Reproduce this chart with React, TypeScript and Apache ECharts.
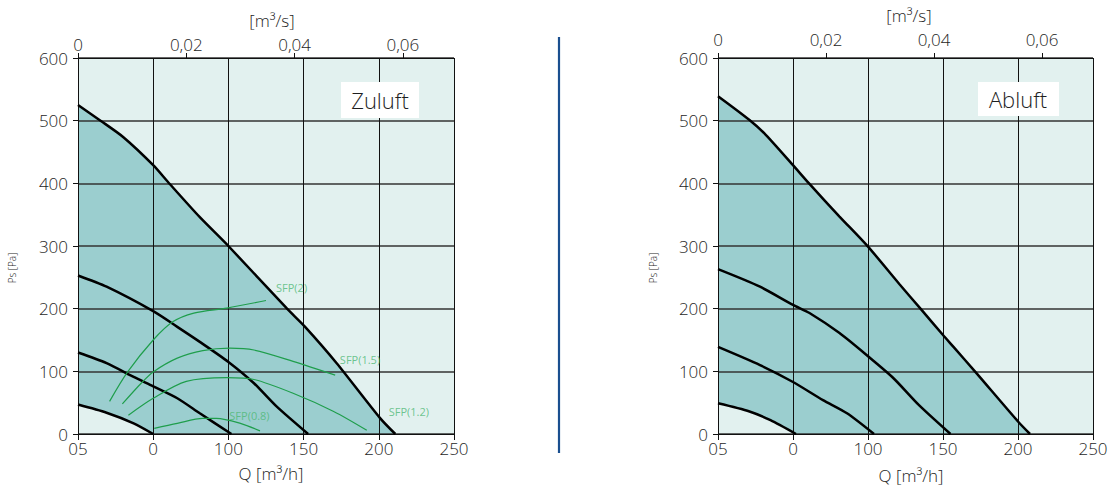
import { useEffect, useRef } from "react";
import * as echarts from "echarts";

// ---- tick labels ----
const xTicks = [0, 50, 100, 150, 200, 250];
const xTickLabels = ["05", "0", "100", "150", "200", "250"];
const topTicks = [0, 0.02, 0.04, 0.06];
const topTickLabels = ["0", "0,02", "0,04", "0,06"];

// ---- Zuluft curves [Q m3/h, Ps Pa] ----
const zuluftMax = [[0, 525], [15, 500], [30, 474], [50, 429], [61, 399], [81, 346], [100, 300], [139, 200], [151, 171], [172, 113], [201, 25], [211, 0]];
const zuluftC3 = [[0, 253], [19, 235], [50, 196], [66, 171], [81, 147], [100, 115], [117, 81], [132, 44], [153, 0]];
const zuluftC2 = [[0, 130], [19, 113], [37, 91], [50, 76], [66, 57], [81, 33], [102, 0]];
const zuluftC1 = [[0, 47], [19, 34], [37, 17], [50, 0]];

// ---- SFP curves (Zuluft) ----
const sfp2 = [[21, 52], [33, 99], [50, 150], [63, 179], [77, 193], [99, 201], [125, 213]];
const sfp15 = [[29.5, 48], [42, 81], [50, 99], [66, 121], [83, 133], [101, 137], [117, 134], [143, 116], [171, 94]];
const sfp12 = [[33.5, 30], [50, 57], [72, 84], [99, 90], [117, 87], [143, 65], [170, 36], [192, 6]];
const sfp08 = [[50.7, 9], [66, 17], [83, 25], [92, 25], [108, 17], [121, 5]];
const sfpLabelNames = ["SFP(2)", "SFP(1.5)", "SFP(1.2)", "SFP(0.8)"];
const sfpLabelPos = [[142, 234], [187.5, 119], [220, 36], [114, 30]];

// ---- Abluft curves ----
const abluftMax = [[0, 539], [21, 501], [32, 477], [50, 429], [61, 399], [81, 347], [100, 299], [121, 239], [135, 200], [150, 158], [157, 139], [172, 98], [200, 20], [208, 0]];
const abluftC3 = [[0, 263], [28, 235], [50, 206], [61, 193], [81, 161], [100, 124], [117, 89], [134, 46], [155, 0]];
const abluftC2 = [[0, 139], [28, 110], [50, 83], [70, 54], [86, 33], [104, 0]];
const abluftC1 = [[0, 49], [21, 36], [35, 22], [52, 0]];

const BG = "#e2f1ef";
const TEAL = "#9bcecf";
const GRID = "#111";
const TXT = "#1e1e1e";
const GREEN = "#1f9e4c";
const GREEN_TXT = "#4db874";
const FONT = "Open Sans";
const FW = 300;
const FS = 17;

function buildOption() {
  const panels = [
    { left: 78, width: 376, max: zuluftMax, curves: [zuluftC3, zuluftC2, zuluftC1], low: zuluftC1, topMargin: 5 },
    { left: 718, width: 375, max: abluftMax, curves: [abluftC3, abluftC2, abluftC1], low: abluftC1, topMargin: 10 },
  ];
  const grid: any[] = [];
  const xAxis: any[] = [];
  const yAxis: any[] = [];
  const series: any[] = [];
  panels.forEach((p, i) => {
    grid.push({ left: p.left, top: 58, width: p.width, height: 376, show: true, backgroundColor: BG, borderWidth: 0 });
    xAxis.push({
      type: "value", gridIndex: i, position: "bottom", min: 0, max: 250, interval: 50, z: 3,
      axisLine: { show: true, onZero: false, lineStyle: { color: GRID, width: 1 } },
      axisTick: { show: true, length: 6, lineStyle: { color: GRID } },
      axisLabel: {
        margin: 6, fontSize: FS, color: TXT, fontFamily: FONT, fontWeight: FW,
        formatter: (v: number) => { const k = xTicks.indexOf(v); return k >= 0 ? xTickLabels[k] : ""; },
      },
      splitLine: { show: true, lineStyle: { color: GRID, width: 1 } },
    });
    xAxis.push({
      type: "value", gridIndex: i, position: "top", min: 0, max: 250 / 3600, z: 3,
      axisLine: { show: true, onZero: false, lineStyle: { color: GRID, width: 1 } },
      axisTick: { show: true, length: 5, customValues: topTicks, lineStyle: { color: GRID } },
      axisLabel: {
        margin: p.topMargin, fontSize: FS, color: TXT, fontFamily: FONT, fontWeight: FW, customValues: topTicks,
        formatter: (v: number) => { const k = Math.round(v / 0.02); return Math.abs(v - k * 0.02) < 1e-6 && k < topTickLabels.length ? topTickLabels[k] : ""; },
      },
      splitLine: { show: false },
    });
    yAxis.push({
      type: "value", gridIndex: i, min: 0, max: 600, interval: 100, z: 3,
      axisLine: { show: true, onZero: false, lineStyle: { color: GRID, width: 1 } },
      axisTick: { show: true, length: 5, lineStyle: { color: GRID } },
      axisLabel: { margin: 10, fontSize: FS, color: TXT, fontFamily: FONT, fontWeight: FW },
      splitLine: { show: true, lineStyle: { color: "#333", width: 1.5 } },
    });
    const xi = i * 2;
    series.push({ type: "line", xAxisIndex: xi, yAxisIndex: i, data: p.max, symbol: "none", smooth: 0.2, lineStyle: { width: 0 }, areaStyle: { color: TEAL, opacity: 1 }, z: 1, silent: true });
    series.push({ type: "line", xAxisIndex: xi, yAxisIndex: i, data: p.low, symbol: "none", smooth: 0.2, lineStyle: { width: 0 }, areaStyle: { color: BG, opacity: 1 }, z: 1, silent: true });
    [p.max, ...p.curves].forEach((c) => {
      series.push({ type: "line", xAxisIndex: xi, yAxisIndex: i, data: c, symbol: "none", smooth: 0.25, lineStyle: { color: "#000", width: 2.5 }, z: 4, silent: true });
    });
  });
  [sfp2, sfp15, sfp12, sfp08].forEach((c) => {
    series.push({ type: "line", xAxisIndex: 0, yAxisIndex: 0, data: c, symbol: "none", smooth: 0.3, lineStyle: { color: GREEN, width: 1.2 }, z: 4, silent: true });
  });
  series.push({
    type: "scatter", xAxisIndex: 0, yAxisIndex: 0, z: 5, silent: true, symbolSize: 1,
    itemStyle: { color: "rgba(0,0,0,0)" },
    data: sfpLabelNames.map((n, k) => ({ name: n, value: sfpLabelPos[k] })),
    label: { show: true, position: "inside", formatter: "{b}", color: GREEN_TXT, fontSize: 11, fontFamily: FONT, fontWeight: 400 },
  });

  const txt = (text: string, x: number, y: number, size: number, extra: any = {}) => ({
    type: "text", x, y, z: 10, ...extra,
    style: { text, fontSize: size, fontFamily: FONT, fontWeight: FW, fill: TXT, align: "center", verticalAlign: "middle" },
  });

  const graphic: any[] = [
    { type: "line", shape: { x1: 559, y1: 37, x2: 559, y2: 453 }, style: { stroke: "#1a4f8f", lineWidth: 2.2 }, z: 10 },
    { type: "rect", shape: { x: 341, y: 82, width: 78, height: 36 }, style: { fill: "#fff" }, z: 10 },
    txt("Zuluft", 380, 100, 22),
    { type: "rect", shape: { x: 978, y: 82, width: 81, height: 34 }, style: { fill: "#fff" }, z: 10 },
    txt("Abluft", 1018, 99, 22),
    txt("[m³/s]", 272, 20, FS),
    txt("[m³/s]", 909, 15, FS),
    txt("Q [m³/h]", 271, 473, FS),
    txt("Q [m³/h]", 911, 475, FS),
    txt("Ps [Pa]", 12, 268, 10, { rotation: Math.PI / 2 }),
    txt("Ps [Pa]", 653, 268, 10, { rotation: Math.PI / 2 }),
  ];

  return {
    animation: false,
    textStyle: { fontFamily: FONT },
    grid, xAxis, yAxis, series, graphic,
  };
}

export default function App() {
  const ref = useRef<HTMLDivElement>(null);
  useEffect(() => {
    document.body.style.margin = "0";
    const chart = echarts.init(ref.current!, null, { renderer: "svg" });
    chart.setOption(buildOption() as any);
    return () => chart.dispose();
  }, []);
  return <div ref={ref} style={{ width: 1111, height: 490, background: "#fff" }} />;
}
